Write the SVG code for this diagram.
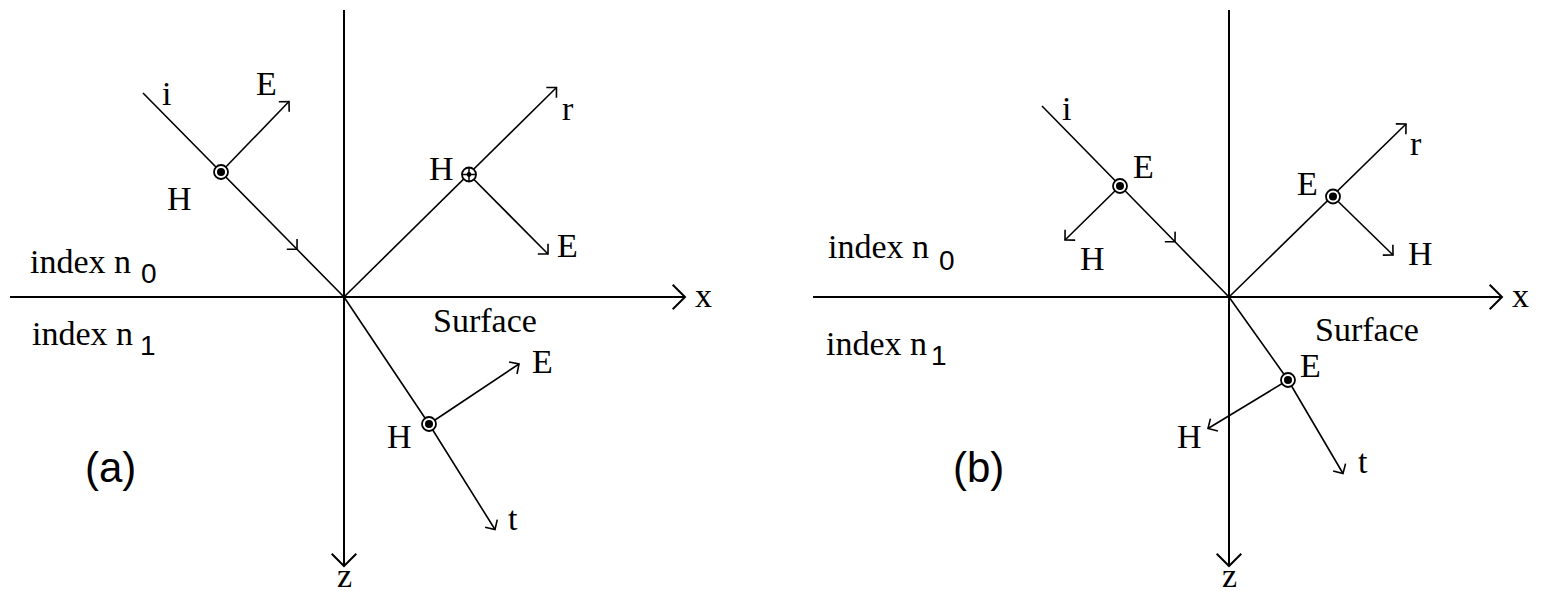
<svg xmlns="http://www.w3.org/2000/svg" width="1543" height="591" viewBox="0 0 1543 591">
<style>
.ax{stroke:#000;stroke-width:2;fill:none}
.ray{stroke:#000;stroke-width:1.6;fill:none}
.t{font-family:"Liberation Serif","Times New Roman",serif;font-size:34px;fill:#000}
.s{font-family:"Liberation Sans",Arial,sans-serif;font-size:28px;fill:#000}
.p{font-family:"Liberation Sans",Arial,sans-serif;font-size:42px;fill:#000}
.dot{fill:#fff;stroke:#000;stroke-width:1.8}
</style>
<defs>
<marker id="ah" markerUnits="userSpaceOnUse" markerWidth="30" markerHeight="30" viewBox="-15 -15 30 30" refX="0" refY="0" orient="auto" overflow="visible"><path d="M-7.2,-7.2 L0,0 L-7.2,7.2" fill="none" stroke="#000" stroke-width="1.6"/></marker>
<marker id="axh" markerUnits="userSpaceOnUse" markerWidth="40" markerHeight="40" viewBox="-20 -20 40 40" refX="0" refY="0" orient="auto" overflow="visible"><path d="M-12.3,-12.3 L0,0 L-12.3,12.3" fill="none" stroke="#000" stroke-width="2"/></marker>
<g id="odot"><circle r="7" class="dot"/><circle r="4" fill="#000"/></g>
<g id="ocross"><circle r="7" class="dot"/><path d="M-7,0H7M0,-7V7" stroke="#000" stroke-width="1.5"/><circle r="2.4" fill="#000"/></g>
</defs>
<rect width="1543" height="591" fill="#fff"/>

<g id="connectors">
  <!-- panel a -->
  <line class="ax" x1="10" y1="297" x2="685" y2="297" marker-end="url(#axh)"/>
  <line class="ax" x1="344" y1="10" x2="344" y2="566" marker-end="url(#axh)"/>
  <polyline class="ray" points="143,93 297,249.3 344,297" marker-mid="url(#ah)"/>
  <line class="ray" x1="221" y1="172" x2="289" y2="101.5" marker-end="url(#ah)"/>
  <line class="ray" x1="344" y1="297" x2="556.5" y2="87.5" marker-end="url(#ah)"/>
  <line class="ray" x1="469" y1="174.5" x2="548" y2="254" marker-end="url(#ah)"/>
  <polyline class="ray" points="344,297 429,424 495,529.5" marker-end="url(#ah)"/>
  <line class="ray" x1="429" y1="424" x2="519" y2="364" marker-end="url(#ah)"/>
  <!-- panel b -->
  <line class="ax" x1="813" y1="297" x2="1502" y2="297" marker-end="url(#axh)"/>
  <line class="ax" x1="1229" y1="10" x2="1229" y2="566" marker-end="url(#axh)"/>
  <polyline class="ray" points="1042,106 1175,241.8 1229,297" marker-mid="url(#ah)"/>
  <line class="ray" x1="1120" y1="186" x2="1065" y2="240" marker-end="url(#ah)"/>
  <line class="ray" x1="1229" y1="297" x2="1406" y2="124" marker-end="url(#ah)"/>
  <line class="ray" x1="1333" y1="196.5" x2="1393" y2="255" marker-end="url(#ah)"/>
  <polyline class="ray" points="1229,297 1288,380 1343,473.5" marker-end="url(#ah)"/>
  <line class="ray" x1="1288" y1="380" x2="1208" y2="428.5" marker-end="url(#ah)"/>
</g>

<g id="a-incident"><use href="#odot" x="221" y="172"/>
  <text class="t" x="162" y="105">i</text><text class="t" x="256" y="95">E</text><text class="t" x="167" y="210">H</text></g>
<g id="a-reflected"><use href="#ocross" x="469" y="174.5"/>
  <text class="t" x="429" y="180">H</text><text class="t" x="562" y="120">r</text><text class="t" x="557" y="257">E</text></g>
<g id="a-transmitted"><use href="#odot" x="429" y="424"/>
  <text class="t" x="532" y="373">E</text><text class="t" x="387" y="448">H</text><text class="t" x="508" y="530">t</text></g>
<g id="a-labels">
  <text class="t" x="433" y="332">Surface</text>
  <text class="t" x="30" y="273">index n</text><text class="s" x="141" y="283">0</text>
  <text class="t" x="32" y="345">index n</text><text class="s" x="140" y="355">1</text>
  <text class="t" x="337" y="587">z</text><text class="t" x="695" y="307">x</text>
  <text class="p" x="85" y="482">(a)</text>
</g>

<g id="b-incident"><use href="#odot" x="1120" y="186"/>
  <text class="t" x="1062" y="120">i</text><text class="t" x="1133" y="178">E</text><text class="t" x="1080" y="270">H</text></g>
<g id="b-reflected"><use href="#odot" x="1333" y="196.5"/>
  <text class="t" x="1297" y="195">E</text><text class="t" x="1410" y="155">r</text><text class="t" x="1408" y="265">H</text></g>
<g id="b-transmitted"><use href="#odot" x="1288" y="380"/>
  <text class="t" x="1300" y="377">E</text><text class="t" x="1177" y="448">H</text><text class="t" x="1358" y="473">t</text></g>
<g id="b-labels">
  <text class="t" x="1315" y="341">Surface</text>
  <text class="t" x="828" y="258">index n</text><text class="s" x="939" y="270">0</text>
  <text class="t" x="826" y="355">index n</text><text class="s" x="931" y="365">1</text>
  <text class="t" x="1222" y="587">z</text><text class="t" x="1512" y="307">x</text>
  <text class="p" x="953" y="482">(b)</text>
</g>
</svg>
